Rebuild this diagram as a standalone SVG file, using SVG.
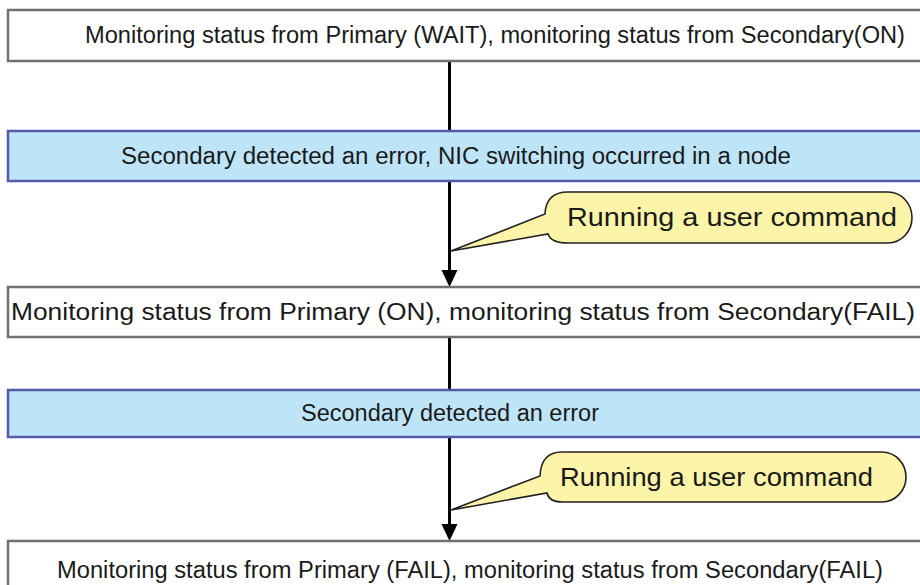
<svg xmlns="http://www.w3.org/2000/svg" width="920" height="585" viewBox="0 0 920 585">
<style>
.box{fill:#ffffff;stroke:#707070;stroke-width:2.5}
.blue{fill:#bee4f8;stroke:#5858a8;stroke-width:2.5}
.t{font-family:"Liberation Sans",Arial,sans-serif;font-size:23px;fill:#1a1a1a}
.ct{font-family:"Liberation Sans",Arial,sans-serif;font-size:25px;fill:#1a1a1a}
.call{fill:#fcf4a8;stroke:#222;stroke-width:1.6}
.ln{stroke:#000;stroke-width:3;fill:none}
</style>
<rect width="920" height="585" fill="#fff"/>
<g id="connectors">
<line class="ln" x1="449.5" y1="61" x2="449.5" y2="131"/>
<line class="ln" x1="449.5" y1="181" x2="449.5" y2="271"/>
<path d="M441.5,270 L457.5,270 L449.5,287 Z" fill="#000"/>
<line class="ln" x1="449.5" y1="337" x2="449.5" y2="390"/>
<line class="ln" x1="449.5" y1="437" x2="449.5" y2="525"/>
<path d="M441.5,524 L457.5,524 L449.5,541 Z" fill="#000"/>
</g>
<g id="n1">
<rect class="box" x="8" y="10" width="930" height="51"/>
<text class="t" x="85" y="43" textLength="820" lengthAdjust="spacingAndGlyphs">Monitoring status from Primary (WAIT), monitoring status from Secondary(ON)</text>
</g>
<g id="n2">
<rect class="blue" x="8" y="131" width="930" height="50"/>
<text class="t" x="121" y="164" textLength="670" lengthAdjust="spacingAndGlyphs">Secondary detected an error, NIC switching occurred in a node</text>
</g>
<g id="c1">
<path class="call" d="M568,192 H888 A24 25.5 0 0 1 888,243 H568 Q551,243 548,234 L451,251 L545,214 Q546,192 568,192 Z"/>
<text class="ct" x="567" y="226" textLength="330" lengthAdjust="spacingAndGlyphs">Running a user command</text>
</g>
<g id="n3">
<rect class="box" x="8" y="287" width="930" height="50"/>
<text class="t" x="11" y="320" textLength="904" lengthAdjust="spacingAndGlyphs">Monitoring status from Primary (ON), monitoring status from Secondary(FAIL)</text>
</g>
<g id="n4">
<rect class="blue" x="8" y="390" width="930" height="47"/>
<text class="t" x="301" y="421" textLength="298" lengthAdjust="spacingAndGlyphs">Secondary detected an error</text>
</g>
<g id="c2">
<path class="call" d="M562,452 H882 A24 25 0 0 1 882,502 H562 Q549,502 547,493 L451,510 L540,476 Q541,452 562,452 Z"/>
<text class="ct" x="560" y="486" textLength="313" lengthAdjust="spacingAndGlyphs">Running a user command</text>
</g>
<g id="n5">
<rect class="box" x="8" y="541" width="930" height="60"/>
<text class="t" x="57" y="578" textLength="826" lengthAdjust="spacingAndGlyphs">Monitoring status from Primary (FAIL), monitoring status from Secondary(FAIL)</text>
</g>
</svg>
